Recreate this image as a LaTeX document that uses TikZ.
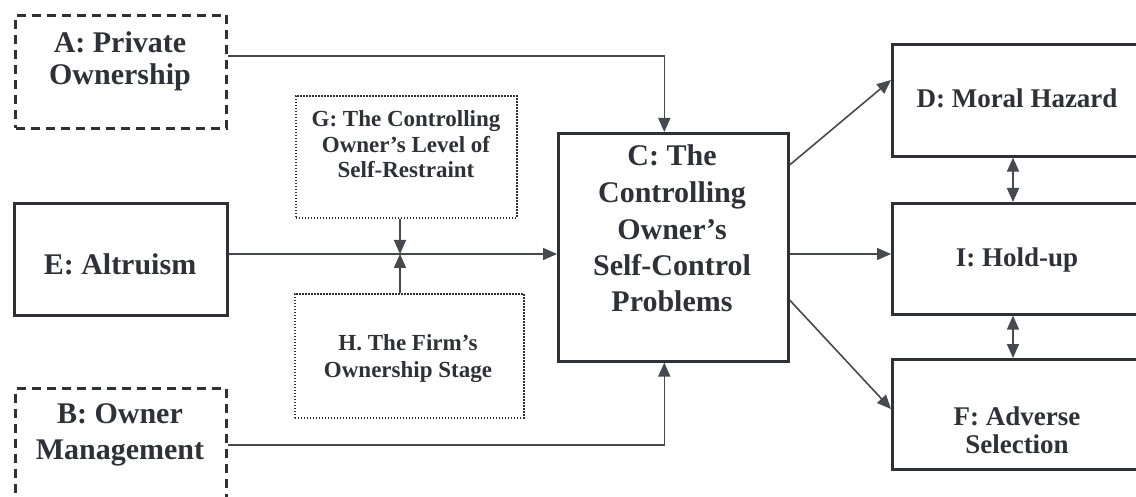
\documentclass[tikz,border=0pt]{standalone}
\usepackage{fontspec}
\setmainfont{Liberation Serif}
\usetikzlibrary{arrows.meta}
\definecolor{ink}{HTML}{2E3136}
\definecolor{wire}{HTML}{46494E}

\begin{document}
\begin{tikzpicture}[x=1pt,y=-1pt,
  frame/.style={draw=ink, line width=2.6pt, inner sep=0pt, anchor=north west},
  dashframe/.style={frame, line width=3pt, dash pattern=on 9pt off 6pt},
  dotframe/.style={frame, line width=1.6pt, dash pattern=on 1.4pt off 1.6pt},
  lbl/.style={text=ink, align=center, anchor=base, inner sep=0pt},
  big/.style={lbl, font=\bfseries\fontsize{30}{32}\selectfont},
  mid/.style={lbl, font=\bfseries\fontsize{27}{28}\selectfont},
  small/.style={lbl, font=\bfseries\fontsize{23}{25.5}\selectfont},
  conn/.style={draw=wire, line width=1.6pt, -{Triangle[length=14pt,width=12pt]}},
  both/.style={draw=wire, line width=1.6pt, {Triangle[length=14pt,width=12pt]}-{Triangle[length=14pt,width=12pt]}}]

\useasboundingbox (0,0) rectangle (1136,497);
\fill[white] (0,0) rectangle (1136,497);
\clip (0,0) rectangle (1136,497);

% antecedents on the left
\node[dashframe, minimum width=211pt, minimum height=113pt] (A) at (14,14) {};
\node[frame, minimum width=213pt, minimum height=112pt] (E) at (13,202) {};
\node[dashframe, minimum width=211pt, minimum height=113pt] (B) at (14,387) {};

% moderators
\node[dotframe, minimum width=221pt, minimum height=122pt] (G) at (295,95) {};
\node[dotframe, minimum width=229pt, minimum height=124pt] (H) at (294,293) {};

% central construct
\node[frame, minimum width=230pt, minimum height=228pt] (C) at (557,132) {};

% outcomes on the right
\node[frame, minimum width=252pt, minimum height=112pt] (D) at (891,43) {};
\node[frame, minimum width=252pt, minimum height=111pt] (I) at (891,202) {};
\node[frame, minimum width=252pt, minimum height=110pt] (F) at (891,358) {};

% labels (placed on the baseline of their last line)
\node[big] (Atxt) at (120,85) {A: Private\\Ownership};
\node[big] (Etxt) at (120,275) {E: Altruism};
\node[big, font=\bfseries\fontsize{30}{36}\selectfont] (Btxt) at (120,459) {B: Owner\\Management};
\node[big, font=\bfseries\fontsize{30}{36.5}\selectfont] (Ctxt) at (672,312)
  {C: The\\Controlling\\Owner’s\\Self-Control\\Problems};
\node[small] (Gtxt) at (406,178) {G: The Controlling\\Owner’s Level of\\Self-Restraint};
\node[small, font=\bfseries\fontsize{23}{27}\selectfont] (Htxt) at (408,377) {H. The Firm’s\\Ownership Stage};
\node[mid] (Dtxt) at (1017,108) {D: Moral Hazard};
\node[mid] (Itxt) at (1017,267) {I: Hold-up};
\node[mid] (Ftxt) at (1017,453) {F: Adverse\\Selection};

% helper coordinates for the routing
\coordinate (rowA) at (0,56);
\coordinate (rowE) at (0,254);
\coordinate (rowB) at (0,445);
\coordinate (J) at (400,254);
\coordinate (cD) at (0,165);
\coordinate (inD) at (0,80);
\coordinate (cF) at (0,300);
\coordinate (inF) at (0,409);
\coordinate (colR) at (1013,0);

% connectors into C
\draw[conn] (A.east |- rowA) -| ([xshift=-9pt]C.north);
\draw[conn] (B.east |- rowB) -| ([xshift=-9pt]C.south);
\draw[conn] (E.east |- rowE) -- (C.west |- rowE);
\draw[conn] (J |- G.south) -- (J);
\draw[conn] (J |- H.north) -- (J);

% connectors out of C
\draw[conn] (C.east |- cD) -- (D.west |- inD);
\draw[conn] (C.east |- rowE) -- (I.west |- rowE);
\draw[conn] (C.east |- cF) -- (F.west |- inF);

% links among outcomes
\draw[both] (D.south -| colR) -- (I.north -| colR);
\draw[both] (I.south -| colR) -- (F.north -| colR);
\end{tikzpicture}
\end{document}
